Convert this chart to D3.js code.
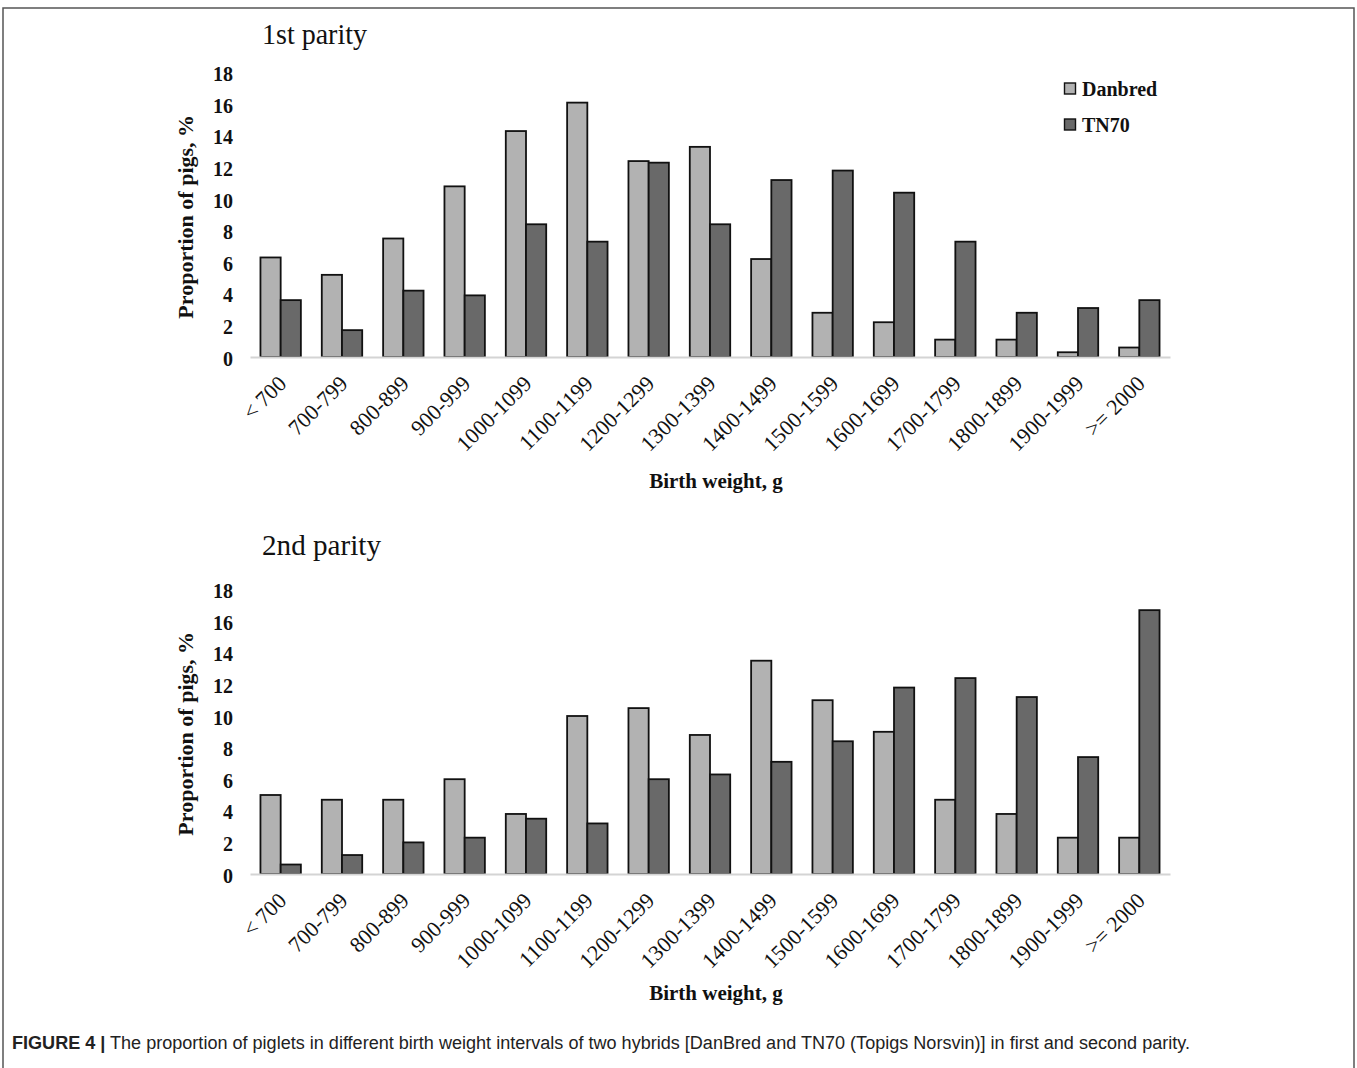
<!DOCTYPE html>
<html>
<head>
<meta charset="utf-8">
<script src="https://cdn.jsdelivr.net/npm/d3@7"></script>
<style>
  html, body { margin: 0; padding: 0; background: #fff; }
  svg { display: block; }
</style>
</head>
<body>
<svg id="chart" width="1357" height="1068"></svg>
<script>
const categories = ["< 700","700-799","800-899","900-999","1000-1099","1100-1199","1200-1299","1300-1399","1400-1499","1500-1599","1600-1699","1700-1799","1800-1899","1900-1999",">= 2000"];
const seriesNames = ["Danbred", "TN70"];
const danbred1 = [6.3, 5.2, 7.5, 10.8, 14.3, 16.1, 12.4, 13.3, 6.2, 2.8, 2.2, 1.1, 1.1, 0.3, 0.6];
const tn70_1   = [3.6, 1.7, 4.2, 3.9, 8.4, 7.3, 12.3, 8.4, 11.2, 11.8, 10.4, 7.3, 2.8, 3.1, 3.6];
const danbred2 = [5.0, 4.7, 4.7, 6.0, 3.8, 10.0, 10.5, 8.8, 13.5, 11.0, 9.0, 4.7, 3.8, 2.3, 2.3];
const tn70_2   = [0.6, 1.2, 2.0, 2.3, 3.5, 3.2, 6.0, 6.3, 7.1, 8.4, 11.8, 12.4, 11.2, 7.4, 16.7];
const yTicks = [0, 2, 4, 6, 8, 10, 12, 14, 16, 18];
const panelTitles = ["1st parity", "2nd parity"];
const xTitle = "Birth weight, g";
const yTitle = "Proportion of pigs, %";
const captionBold = "FIGURE 4 |";
const captionText = " The proportion of piglets in different birth weight intervals of two hybrids [DanBred and TN70 (Topigs Norsvin)] in first and second parity.";

const colors = {Danbred: "#b2b2b2", TN70: "#696969"};
const serif = "'Liberation Serif', 'Times New Roman', serif";
const svg = d3.select("#chart");

// frame
svg.append("path")
  .attr("d", "M3,1070 L3,8 L1354,8 L1354,1070")
  .attr("fill", "none").attr("stroke", "#555").attr("stroke-width", 1.5);

const panels = [
  {title: panelTitles[0], titleLen: 105, data: [danbred1, tn70_1], zeroY: 357, titleY: 44, xTitleY: 488, legend: true},
  {title: panelTitles[1], titleLen: 119, data: [danbred2, tn70_2], zeroY: 874, titleY: 555, xTitleY: 1000, legend: false}
];

const x = d3.scaleBand().domain(categories).range([250, 1170]).paddingInner(0.341).paddingOuter(0.1705);
const xs = d3.scaleBand().domain(seriesNames).range([0, x.bandwidth()]);

panels.forEach(p => {
  const y = d3.scaleLinear().domain([0, 18]).range([p.zeroY, p.zeroY - 284.4]);
  const g = svg.append("g");

  g.append("text").attr("x", 262).attr("y", p.titleY)
    .attr("font-family", serif).attr("font-size", 29).attr("fill", "#111")
    .attr("textLength", p.titleLen).attr("lengthAdjust", "spacingAndGlyphs")
    .text(p.title);

  // y tick labels
  const yAxis = d3.axisLeft(y).tickValues(yTicks).tickSize(0).tickPadding(0);
  const ya = g.append("g").attr("transform", "translate(233,0)").call(yAxis);
  ya.select(".domain").remove();
  ya.selectAll("text").attr("font-family", serif).attr("font-size", 20).attr("font-weight", "bold")
    .attr("fill", "#111").attr("dy", "0.4em");

  // y title
  g.append("text")
    .attr("transform", `translate(193,${(y(0)+y(18))/2 + 2}) rotate(-90)`)
    .attr("text-anchor", "middle")
    .attr("font-family", serif).attr("font-size", 22).attr("font-weight", "bold").attr("fill", "#111")
    .text(yTitle);

  // bars
  const rows = categories.map((c, i) => ({cat: c, vals: seriesNames.map((s, k) => ({s, v: p.data[k][i]}))}));
  const grp = g.selectAll("g.grp").data(rows).join("g").attr("class", "grp")
    .attr("transform", d => `translate(${x(d.cat)},0)`);
  grp.selectAll("rect").data(d => d.vals).join("rect")
    .attr("x", d => xs(d.s)).attr("width", xs.bandwidth())
    .attr("y", d => y(d.v)).attr("height", d => y(0) - y(d.v))
    .attr("fill", d => colors[d.s]).attr("stroke", "#111").attr("stroke-width", 1.8);

  // x axis
  const xAxis = d3.axisBottom(x).tickSize(0).tickPadding(0);
  const xa = g.append("g").attr("transform", `translate(0,${y(0)})`).call(xAxis);
  xa.select(".domain").attr("stroke", "#d4d4d4").attr("stroke-width", 2);
  xa.selectAll("text")
    .attr("font-family", serif).attr("font-size", 22).attr("fill", "#111")
    .attr("text-anchor", "end").attr("dy", 0).attr("y", 0)
    .attr("transform", "translate(7,28) rotate(-45)");

  g.append("text").attr("x", 716).attr("y", p.xTitleY).attr("text-anchor", "middle")
    .attr("font-family", serif).attr("font-size", 21).attr("font-weight", "bold").attr("fill", "#111")
    .text(xTitle);

  if (p.legend) {
    const lg = g.append("g");
    seriesNames.forEach((s, k) => {
      lg.append("rect").attr("x", 1064.5).attr("y", 83 + k * 36).attr("width", 11).attr("height", 11)
        .attr("fill", colors[s]).attr("stroke", "#111").attr("stroke-width", 1.4);
      lg.append("text").attr("x", 1082).attr("y", 96 + k * 35.5)
        .attr("font-family", serif).attr("font-size", 20).attr("font-weight", "bold").attr("fill", "#111")
        .text(s);
    });
  }
});

// caption
const cap = svg.append("text").attr("x", 12).attr("y", 1049)
  .attr("font-family", "'Liberation Sans', Arial, sans-serif").attr("font-size", 18).attr("fill", "#222")
  .attr("textLength", 1178).attr("lengthAdjust", "spacingAndGlyphs");
cap.append("tspan").attr("font-weight", "bold").text(captionBold);
cap.append("tspan").text(captionText);
</script>
</body>
</html>
